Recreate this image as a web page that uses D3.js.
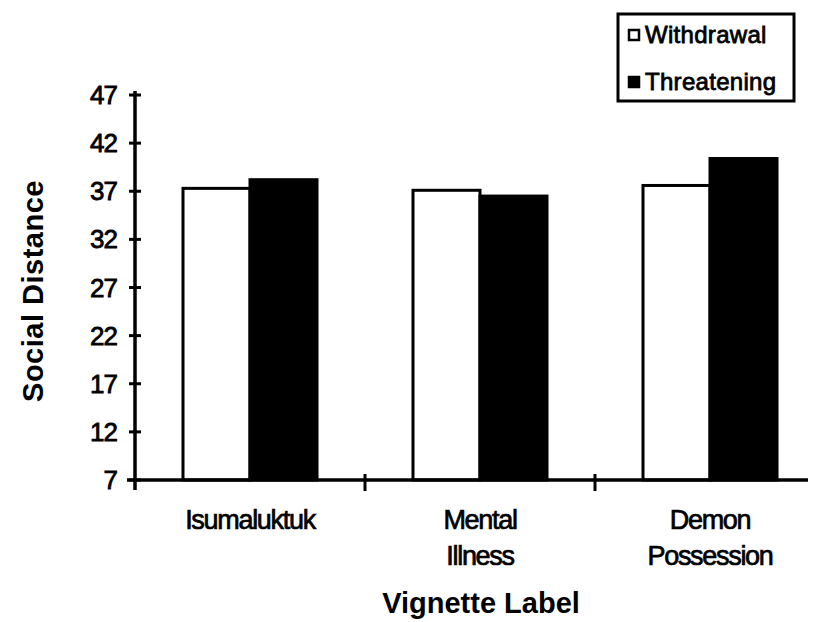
<!DOCTYPE html>
<html>
<head>
<meta charset="utf-8">
<script src="https://cdn.jsdelivr.net/npm/d3@7"></script>
<style>
  body { margin: 0; background: #fff; }
  text { font-family: "Liberation Sans", Arial, sans-serif; fill: #000; }
</style>
</head>
<body>
<div id="container"></div>
<script>
/* DATA */
const categories = ["Isumaluktuk", "Mental Illness", "Demon Possession"];
const categoryLines = [["Isumaluktuk"], ["Mental", "Illness"], ["Demon", "Possession"]];
const series = ["Withdrawal", "Threatening"];
const withdrawal = [37.3, 37.1, 37.6];
const threatening = [38.2, 36.5, 40.4];
const yTicks = [7, 12, 17, 22, 27, 32, 37, 42, 47];

/* CONSTANTS */
const width = 815;
const height = 622;
const plotLeft = 135, plotBottom = 480, plotTop = 95;

const svg = d3.select("#container")
  .append("svg")
  .attr("width", width)
  .attr("height", height)

/* SCALES */
const yScale = d3.scaleLinear()
  .domain([7, 47])
  .range([plotBottom, plotTop])

const xScale = d3.scaleBand()
  .domain(categories)
  .range([plotLeft, plotLeft + 230 * 3])

const xInner = d3.scaleBand()
  .domain(series)
  .range([48, 182])

const color = d3.scaleOrdinal()
  .domain(series)
  .range(["#fff", "#000"])

const rows = categories.map((c, i) => ({
  cat: c,
  values: [
    { s: "Withdrawal", v: withdrawal[i] },
    { s: "Threatening", v: threatening[i] }
  ]
}))

// BARS
const groups = svg.selectAll("g.group")
  .data(rows)
  .join("g")
  .attr("class", "group")
  .attr("transform", d => `translate(${xScale(d.cat)},0)`)

groups.selectAll("rect")
  .data(d => d.values)
  .join("rect")
  .attr("x", d => xInner(d.s))
  .attr("y", d => yScale(d.v))
  .attr("width", xInner.bandwidth())
  .attr("height", d => plotBottom - yScale(d.v))
  .attr("fill", d => color(d.s))
  .attr("stroke", "#000")
  .attr("stroke-width", 3)

// Y AXIS
const yAxis = svg.append("g")
yAxis.append("line")
  .attr("x1", plotLeft).attr("x2", plotLeft)
  .attr("y1", plotTop - 4).attr("y2", plotBottom + 10)
  .attr("stroke", "#000").attr("stroke-width", 3.5)

yAxis.selectAll("line.tick")
  .data(yTicks)
  .join("line")
  .attr("class", "tick")
  .attr("x1", plotLeft - 6).attr("x2", plotLeft + 6)
  .attr("y1", d => yScale(d)).attr("y2", d => yScale(d))
  .attr("stroke", "#000").attr("stroke-width", 3)

yAxis.selectAll("text")
  .data(yTicks)
  .join("text")
  .attr("x", 117)
  .attr("y", d => yScale(d) + 9)
  .attr("text-anchor", "end")
  .attr("font-size", 26)
  .attr("letter-spacing", -1)
  .attr("stroke", "#000").attr("stroke-width", 0.8)
  .text(d => d)

// X AXIS
const xAxis = svg.append("g")
xAxis.append("line")
  .attr("x1", plotLeft - 8).attr("x2", 808)
  .attr("y1", plotBottom).attr("y2", plotBottom)
  .attr("stroke", "#000").attr("stroke-width", 3.5)

xAxis.selectAll("line.tick")
  .data(categories.slice(1))
  .join("line")
  .attr("class", "tick")
  .attr("x1", d => xScale(d)).attr("x2", d => xScale(d))
  .attr("y1", plotBottom - 6).attr("y2", plotBottom + 11)
  .attr("stroke", "#000").attr("stroke-width", 3)

const catLabels = xAxis.selectAll("text.cat")
  .data(categories)
  .join("text")
  .attr("class", "cat")
  .attr("text-anchor", "middle")
  .attr("font-size", 27)
  .attr("letter-spacing", -1.3)
  .attr("stroke", "#000").attr("stroke-width", 0.7)
  .attr("transform", d => `translate(${xScale(d) + xScale.bandwidth() / 2},0)`)

catLabels.selectAll("tspan")
  .data((d, i) => categoryLines[i])
  .join("tspan")
  .attr("x", 0)
  .attr("y", (d, i) => 529 + i * 36)
  .text(d => d)

// AXIS TITLES
svg.append("text")
  .attr("x", 481).attr("y", 613)
  .attr("text-anchor", "middle")
  .attr("font-size", 29)
  .attr("font-weight", "bold")
  .text("Vignette Label")

svg.append("text")
  .attr("transform", "translate(43,291) rotate(-90)")
  .attr("text-anchor", "middle")
  .attr("font-size", 29)
  .attr("font-weight", "bold")
  .attr("letter-spacing", 0.5)
  .text("Social Distance")

// LEGEND
const legend = svg.append("g")
legend.append("rect")
  .attr("x", 618).attr("y", 14)
  .attr("width", 176).attr("height", 87)
  .attr("fill", "#fff").attr("stroke", "#000").attr("stroke-width", 3)

const items = legend.selectAll("g.item")
  .data(series)
  .join("g")
  .attr("class", "item")
  .attr("transform", (d, i) => `translate(629,${35 + i * 47})`)

items.append("rect")
  .attr("x", 0).attr("y", -5)
  .attr("width", 10).attr("height", 10)
  .attr("fill", d => color(d))
  .attr("stroke", "#000").attr("stroke-width", 2.5)

items.append("text")
  .attr("x", 16).attr("y", 0)
  .attr("dy", "0.35em")
  .attr("font-size", 24)
  .attr("letter-spacing", 0.3)
  .attr("stroke", "#000").attr("stroke-width", 0.8)
  .text(d => d)
</script>
</body>
</html>
